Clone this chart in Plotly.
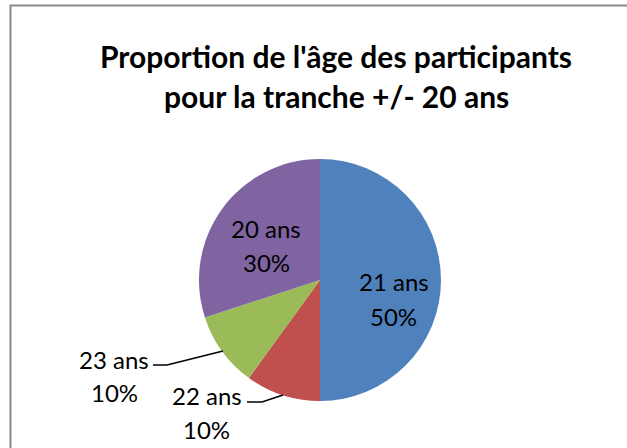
import plotly.graph_objects as go

# data
ages = ["21 ans", "22 ans", "23 ans", "20 ans"]
shares = [50, 10, 10, 30]
colors = ["#4F81BD", "#C0504D", "#9BBB59", "#8064A2"]
title_lines = ["Proportion de l'âge des participants", "pour la tranche +/- 20 ans"]

W, H = 627, 448
FONT = "Lato, Calibri, 'Open Sans', sans-serif"

fig = go.Figure(go.Pie(
    labels=ages,
    values=shares,
    sort=False,
    direction="clockwise",
    rotation=0,
    marker=dict(colors=colors, line=dict(width=0)),
    textinfo="none",
    hoverinfo="label+percent",
    showlegend=False,
    domain=dict(x=[199 / W, 441 / W], y=[(H - 401) / H, (H - 159) / H]),
))


def px(x, y):
    return x / W, (H - y) / H


def text_at(text, x, y, size, bold=False):
    xx, yy = px(x, y)
    return dict(text=f"<b>{text}</b>" if bold else text, x=xx, y=yy,
                xref="paper", yref="paper", xanchor="center", yanchor="middle",
                showarrow=False, font=dict(family=FONT, size=size, color="#000"))


# slice labels: name line / percent line centres in pixels
label_pos = {
    "21 ans": ((394, 281), (393, 316)),
    "20 ans": ((266, 228), (266, 262)),
    "23 ans": ((114, 359), (114, 392)),
    "22 ans": ((207, 395), (206, 429)),
}
annotations = []
for name, share in zip(ages, shares):
    (x1, y1), (x2, y2) = label_pos[name]
    annotations.append(text_at(name, x1, y1, 24))
    annotations.append(text_at(f"{share}%", x2, y2, 24))

# title
annotations.append(text_at(title_lines[0], 336, 56, 30, bold=True))
annotations.append(text_at(title_lines[1], 336, 96, 30, bold=True))

shapes = [
    # chart frame
    dict(type="rect", xref="paper", yref="paper",
         x0=10.5 / W, x1=1.2, y0=-0.2, y1=(H - 5.5) / H,
         line=dict(color="#878787", width=2)),
]
# leader lines
for pts in [[(153, 365), (167, 365), (223, 351)],
            [(247, 402), (262, 402), (283, 395)]]:
    path = "M " + " L ".join(f"{px(a, b)[0]},{px(a, b)[1]}" for a, b in pts)
    shapes.append(dict(type="path", xref="paper", yref="paper", path=path,
                       line=dict(color="#000", width=1.5)))

fig.update_layout(
    width=W, height=H,
    margin=dict(l=0, r=0, t=0, b=0),
    paper_bgcolor="white",
    plot_bgcolor="white",
    annotations=annotations,
    shapes=shapes,
)

fig.write_html("out.html", config={"displayModeBar": False},
               post_script="document.body.style.margin='0px';")
